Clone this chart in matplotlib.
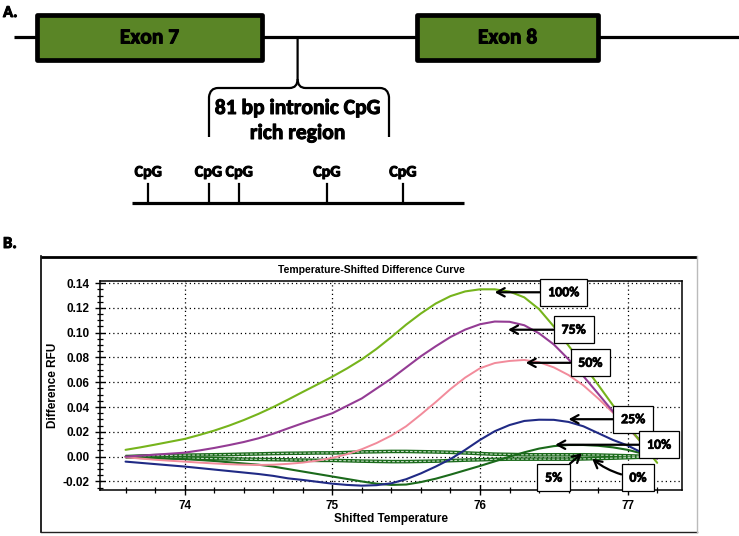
import numpy as np
import matplotlib
matplotlib.use("Agg")
import matplotlib.pyplot as plt
from matplotlib import font_manager as fm
from matplotlib import patheffects as pe
from matplotlib.font_manager import FontProperties
from matplotlib.path import Path
from matplotlib.patches import PathPatch, Rectangle
from matplotlib.ticker import MultipleLocator, FormatStrFormatter
import os

# ---------------- data ----------------
temps = [73.6, 73.7, 73.8, 73.9, 74.0, 74.1, 74.2, 74.3, 74.4, 74.5,
         74.6, 74.7, 74.8, 74.9, 75.0, 75.1, 75.2, 75.3, 75.4, 75.5,
         75.6, 75.7, 75.8, 75.9, 76.0, 76.1, 76.2, 76.3, 76.4, 76.5,
         76.6, 76.7, 76.8, 76.9, 77.0, 77.1, 77.2]

s100 = [0.0055, 0.0075, 0.0097, 0.0120, 0.0143, 0.0175, 0.0210, 0.0250, 0.0295, 0.0345,
        0.0400, 0.0460, 0.0522, 0.0583, 0.0645, 0.0712, 0.0785, 0.0870, 0.0965, 0.1065,
        0.1155, 0.1235, 0.1295, 0.1333, 0.1350, 0.1350, 0.1332, 0.1285, 0.1190, 0.1050,
        0.0895, 0.0740, 0.0580, 0.0415, 0.0255, 0.0100, -0.0050]
s75 = [0.0000, 0.0008, 0.0016, 0.0024, 0.0032, 0.0050, 0.0070, 0.0093, 0.0118, 0.0148,
       0.0185, 0.0228, 0.0270, 0.0310, 0.0350, 0.0410, 0.0470, 0.0550, 0.0630, 0.0720,
       0.0810, 0.0890, 0.0965, 0.1025, 0.1068, 0.1090, 0.1088, 0.1060, 0.0995, 0.0905,
       0.0785, 0.0650, 0.0508, 0.0365, 0.0240, 0.0110, -0.0015]
s50 = [-0.0005, -0.0015, -0.0025, -0.0033, -0.0040, -0.0048, -0.0055, -0.0061, -0.0065, -0.0067,
       -0.0065, -0.0058, -0.0048, -0.0032, -0.0010, 0.0020, 0.0060, 0.0110, 0.0170, 0.0245,
       0.0340, 0.0440, 0.0545, 0.0638, 0.0713, 0.0755, 0.0772, 0.0780, 0.0762, 0.0720,
       0.0658, 0.0575, 0.0470, 0.0355, 0.0235, 0.0105, -0.0015]
s25 = [-0.0040, -0.0050, -0.0060, -0.0070, -0.0080, -0.0092, -0.0104, -0.0116, -0.0128, -0.0140,
       -0.0155, -0.0175, -0.0188, -0.0203, -0.0218, -0.0228, -0.0234, -0.0230, -0.0215, -0.0182,
       -0.0135, -0.0080, -0.0020, 0.0055, 0.0135, 0.0205, 0.0255, 0.0288, 0.0298, 0.0297,
       0.0280, 0.0245, 0.0190, 0.0135, 0.0090, 0.0030, -0.0015]
s10 = [0.0000, -0.0005, -0.0010, -0.0015, -0.0020, -0.0027, -0.0035, -0.0045, -0.0055, -0.0065,
       -0.0080, -0.0100, -0.0120, -0.0140, -0.0160, -0.0180, -0.0200, -0.0218, -0.0228, -0.0225,
       -0.0205, -0.0178, -0.0145, -0.0110, -0.0075, -0.0038, 0.0000, 0.0035, 0.0065, 0.0085,
       0.0094, 0.0094, 0.0088, 0.0075, 0.0055, 0.0025, -0.0010]
s5 = [0.0000, 0.0005, 0.0008, 0.0010, 0.0012, 0.0013, 0.0015, 0.0017, 0.0020, 0.0022,
      0.0025, 0.0027, 0.0028, 0.0030, 0.0030, 0.0033, 0.0038, 0.0040, 0.0042, 0.0042,
      0.0040, 0.0038, 0.0035, 0.0030, 0.0025, 0.0020, 0.0018, 0.0015, 0.0015, 0.0015,
      0.0015, 0.0015, 0.0013, 0.0010, 0.0007, 0.0003, 0.0000]
s0 = [0.0000, -0.0005, -0.0008, -0.0010, -0.0012, -0.0014, -0.0016, -0.0018, -0.0020, -0.0022,
      -0.0024, -0.0026, -0.0028, -0.0030, -0.0030, -0.0033, -0.0036, -0.0038, -0.0040, -0.0040,
      -0.0038, -0.0036, -0.0032, -0.0028, -0.0025, -0.0022, -0.0020, -0.0020, -0.0020, -0.0020,
      -0.0020, -0.0018, -0.0015, -0.0012, -0.0008, -0.0004, 0.0000]

pct_labels = ["100%", "75%", "50%", "25%", "10%", "5%", "0%"]
arrow_heads = [(76.10, 0.1326), (76.19, 0.1024), (76.31, 0.0757), (76.60, 0.0302),
               (76.51, 0.0096), (76.69, 0.0027), (76.76, -0.0017)]
label_centers = [(76.567, 0.1326), (76.635, 0.1024), (76.748, 0.0757), (77.038, 0.0302),
                 (77.213, 0.0096), (76.50, -0.0170), (77.07, -0.0170)]

x_ticks = [74, 75, 76, 77]
y_ticks = [-0.02, 0.00, 0.02, 0.04, 0.06, 0.08, 0.10, 0.12, 0.14]

exon_names = ["Exon 7", "Exon 8"]
cpg_label = "CpG"

# ---------------- fonts ----------------
avail = {f.name for f in fm.fontManager.ttflist}
narrow = "Liberation Sans Narrow" if "Liberation Sans Narrow" in avail else "Liberation Sans"


def has_bold(name):
    if name not in avail:
        return False
    try:
        path = fm.findfont(FontProperties(family=name, weight="bold"), fallback_to_default=False)
    except Exception:
        return False
    base = os.path.basename(path).lower()
    return ("bold" in base) or ("black" in base) or ("heavy" in base) or ("wght" in base)


cal = "DejaVu Sans"
for cand in ["Carlito", "Lato", "Noto Sans", "Open Sans", "Roboto", "Inter", "Liberation Sans"]:
    if has_bold(cand):
        cal = cand
        break

heavy = [pe.withStroke(linewidth=0.7, foreground="black")]

W, H = 739, 536
fig = plt.figure(figsize=(W / 100, H / 100), dpi=100)
fig.patch.set_facecolor("white")

# ---------------- overlay (panel A + frame of panel B) ----------------
ov = fig.add_axes([0, 0, 1, 1], zorder=0)
ov.set_xlim(0, W)
ov.set_ylim(H, 0)
ov.axis("off")

ov.text(3, 12, "A.", fontsize=12, fontweight="bold", family=cal, ha="left", va="center",
        path_effects=heavy)
ov.text(3, 243, "B.", fontsize=12, fontweight="bold", family=cal, ha="left", va="center",
        path_effects=heavy)

# gene line
ov.plot([14, W], [37, 37], color="black", lw=2.3, solid_capstyle="butt", zorder=1)
exon_spans = [(37, 262), (417, 598)]
for (x0, x1), name in zip(exon_spans, exon_names):
    ov.add_patch(Rectangle((x0, 15), x1 - x0, 44.5, facecolor="#5A8526",
                           edgecolor="black", lw=3.4, joinstyle="round", zorder=2))
    ov.text((x0 + x1) / 2, 37.5, name, fontsize=15.5, fontweight="bold", family=cal,
            ha="center", va="center", zorder=3, path_effects=heavy)

# brace
bx, bl, br = 297.6, 209, 389
verts = [(bl, 137), (bl, 97), (bl + 1, 88), (bl + 9, 88),
         (bx - 8, 88), (bx, 88), (bx, 79), (bx, 37)]
codes = [Path.MOVETO, Path.LINETO, Path.CURVE3, Path.CURVE3,
         Path.LINETO, Path.CURVE3, Path.CURVE3, Path.LINETO]
ov.add_patch(PathPatch(Path(verts, codes), fill=False, lw=1.6, ec="black", zorder=1))
verts_r = [(br, 137), (br, 97), (br - 1, 88), (br - 9, 88),
           (bx + 8, 88), (bx, 88), (bx, 79)]
codes_r = [Path.MOVETO, Path.LINETO, Path.CURVE3, Path.CURVE3,
           Path.LINETO, Path.CURVE3, Path.CURVE3]
ov.add_patch(PathPatch(Path(verts_r, codes_r), fill=False, lw=1.6, ec="black", zorder=1))
ov.text(bx, 108, "81 bp intronic CpG", fontsize=15.5, fontweight="bold", family=cal,
        ha="center", va="center", path_effects=heavy)
ov.text(bx, 133, "rich region", fontsize=15.5, fontweight="bold", family=cal,
        ha="center", va="center", path_effects=heavy)

# CpG map
ov.plot([132, 464], [202.5, 202.5], color="black", lw=2.3, solid_capstyle="butt")
cpg_x = [148.3, 208.5, 239.3, 327, 403]
for cx in cpg_x:
    ov.plot([cx, cx], [184, 202.5], color="black", lw=1.6)
    ov.text(cx, 172.5, cpg_label, fontsize=11.5, fontweight="bold", family=cal,
            ha="center", va="center", path_effects=heavy)

# frame around panel B
ov.plot([40.7, 696.7], [256.5, 256.5], color="black", lw=2.0, solid_capstyle="butt")
ov.plot([40.7, 40.7], [256, 532], color="black", lw=1.2)
ov.plot([40.7, 696.7], [532, 532], color="#222222", lw=1.0)
ov.plot([696.7, 696.7], [256, 532], color="#bbbbbb", lw=1.0)

# ---------------- panel B chart ----------------
L, R, T, B = 100, 682, 281, 490
ax = fig.add_axes([L / W, 1 - B / H, (R - L) / W, (B - T) / H], zorder=2)
ax.set_facecolor("white")
ax.set_xlim(73.427, 77.368)
ax.set_ylim(-0.0269, 0.1417)

ax.set_xticks(x_ticks)
ax.xaxis.set_minor_locator(MultipleLocator(0.2))
ax.set_yticks(y_ticks)
ax.yaxis.set_minor_locator(MultipleLocator(0.005))
ax.yaxis.set_major_formatter(FormatStrFormatter("%.2f"))
ax.tick_params(which="major", direction="inout", length=7, width=1.0, pad=4,
               labelsize=8.5)
ax.tick_params(which="minor", direction="inout", length=4, width=0.9)
for lab in ax.get_xticklabels() + ax.get_yticklabels():
    lab.set_fontfamily(narrow)
    lab.set_fontweight("bold")

ax.grid(True, which="major", color="black", linestyle=(0, (1, 2.4)), lw=0.9)
ax.set_axisbelow(True)
for sp in ax.spines.values():
    sp.set_linewidth(1.1)
    sp.set_color("black")

ax.text(0.466, 1.053, "Temperature-Shifted Difference Curve", transform=ax.transAxes,
        ha="center", va="center", fontsize=7.5, fontweight="bold", family=narrow)
ax.set_xlabel("Shifted Temperature", fontsize=8.5, fontweight="bold", family=narrow)
ax.xaxis.set_label_coords(0.5, -0.11)
ax.set_ylabel("Difference RFU", fontsize=8.5, fontweight="bold", family=narrow)
ax.yaxis.set_label_coords(-0.07, 0.5)

green_dark = "#1B6A1B"
# near-zero curves (5% and 0%) drawn as outlined lines
for vals in (s5, s0):
    ax.plot(temps, vals, color=green_dark, lw=2.6, solid_capstyle="butt", zorder=3)
    ax.plot(temps, vals, color="#c4dcc4", lw=0.8, linestyle=(0, (2.5, 1.5)), zorder=3.1)

series = [(s10, green_dark, 1.5), (s25, "#202A85", 1.5), (s50, "#F28B9B", 1.4),
          (s75, "#943C94", 1.5), (s100, "#76B41C", 1.5)]
for vals, col, lw in series:
    ax.plot(temps, vals, color=col, lw=lw, solid_capstyle="round", zorder=3.5)

for lab, head, ctr in zip(pct_labels, arrow_heads, label_centers):
    cs = "arc3,rad=-0.15" if lab == "0%" else "arc3,rad=0"
    ax.annotate(lab, xy=head, xytext=ctr, textcoords="data", xycoords="data",
                ha="center", va="center", fontsize=10, fontweight="bold", family=cal,
                bbox=dict(boxstyle="square,pad=0.55", fc="white", ec="black", lw=0.9),
                arrowprops=dict(arrowstyle="->,head_length=0.55,head_width=0.3",
                                color="black", lw=1.6, shrinkA=0, shrinkB=0,
                                connectionstyle=cs),
                path_effects=[pe.withStroke(linewidth=0.5, foreground="black")],
                annotation_clip=False, zorder=5)

fig.savefig("out.png", dpi=100, facecolor="white")
